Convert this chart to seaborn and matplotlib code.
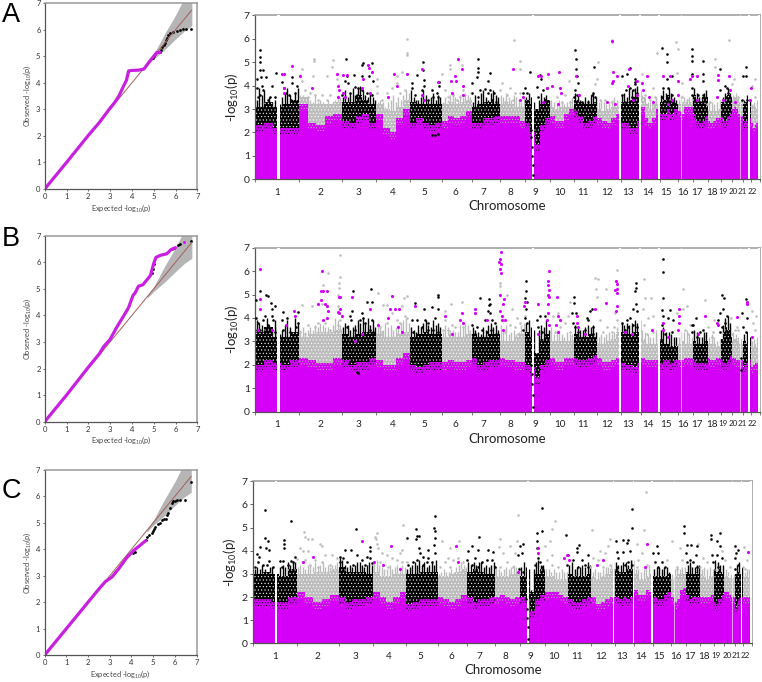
import numpy as np
import matplotlib
matplotlib.use('Agg')
import matplotlib.pyplot as plt
import seaborn as sns

sns.set_theme(style='white')
plt.rcParams['font.family'] = ['Lato', 'DejaVu Sans']
plt.rcParams['mathtext.default'] = 'regular'
plt.rcParams['hatch.linewidth'] = 0.4

MAGENTA = '#D400F8'
GREY = '#BDBDBD'
W, H = 762, 682

# chromosome lengths in Mb
chrom_mb = [249, 243, 198, 191, 181, 171, 159, 146, 141, 135, 135, 133, 115, 107, 102, 90, 81, 78, 59, 63, 48, 51]
chrom_names = [str(i) for i in range(1, 23)]
spike_counts = [17, 17, 14, 13, 13, 12, 11, 10, 10, 9, 9, 9, 8, 7, 7, 6, 6, 5, 4, 4, 3, 4]

# label positions along the genome axis (same unit as the *_x lists)
ab_labels = [186, 316, 430, 532, 628, 721, 806, 885, 960, 1034, 1104, 1175, 1240, 1299, 1353, 1403, 1447, 1490, 1524, 1556, 1583, 1613]
c_labels = [180, 307, 421, 521, 616, 708, 793, 870, 945, 1018, 1087, 1158, 1221, 1279, 1333, 1383, 1425, 1468, 1503, 1537, 1565, 1591]

# regions without markers
ab_gaps = [(186, 194), (950, 958), (1212, 1217), (1272, 1278), (1328, 1334), (1600, 1604), (1628, 1635)]
ab_faint = [(1399, 1402), (1575, 1578)]
c_gaps = [(180, 187), (935, 942), (1193, 1197), (1253, 1258), (1308, 1314), (1577, 1581), (1605, 1612)]
c_faint = [(1377, 1380), (1551, 1553)]

# per chromosome, five bins: upper edge of the point cloud and of the solid magenta area
a_top = [3.1,3.3,3.1,3.2,3.4, 3.5,3.2,3.2,3.2,3.3, 3.3,3.3,3.6,3.4,3.2, 3.2,3.0,2.9,3.1,3.4, 3.3,3.2,3.2,3.2,3.2, 3.2,3.3,3.2,3.3,3.4,
         3.1,3.2,3.3,3.3,3.2, 3.2,3.3,3.2,3.1,3.1, 3.4,3.2,3.0,3.2,3.4, 3.1,3.0,3.1,3.1,3.1, 3.4,3.3,3.2,3.2,3.3, 3.0,2.9,3.0,3.1,3.1,
         3.3,3.3,3.4,3.5,3.6, 3.5,3.2,3.0,3.2,3.2, 3.3,3.4,3.6,3.4,3.2, 3.2,3.3,3.3,3.2,3.3, 3.6,3.4,3.3,3.5,3.5, 3.0,2.9,2.9,2.9,3.0,
         3.3,3.2,3.5,3.6,3.5, 3.4,3.5,3.4,3.3,3.3, 3.2,3.3,3.3,3.3,3.2, 3.0,2.9,3.1,3.0,2.9]
a_low = [2.3,2.4,2.2,2.2,2.2, 3.2,2.4,2.3,2.7,2.8, 2.5,2.4,2.7,2.8,2.4, 2.8,2.2,2.0,2.6,3.0, 2.4,2.6,2.4,2.3,2.4, 2.5,2.7,2.6,2.7,2.9,
         2.4,2.4,2.6,2.6,2.7, 2.7,2.7,2.7,2.7,2.5, 2.4,2.0,1.5,2.3,2.6, 2.7,2.5,2.5,2.8,3.0, 2.9,2.7,2.4,2.5,2.7, 2.6,2.5,2.4,2.6,2.8,
         2.4,2.4,2.2,2.2,2.5, 3.1,2.6,2.4,2.6,3.0, 2.8,2.8,3.0,2.8,3.0, 2.9,2.8,3.1,3.1,3.1, 2.8,2.5,2.4,2.5,2.7, 2.5,2.4,2.5,2.6,2.6,
         2.7,2.5,2.5,2.7,2.8, 3.0,3.1,3.0,2.8,2.7, 2.3,2.5,2.5,2.6,2.6, 2.4,2.2,2.3,2.4,2.4]
b_top = [3.4,3.6,3.2,3.2,3.4, 3.2,3.3,3.4,3.4,3.5, 3.3,3.2,3.3,3.4,3.4, 3.3,3.2,3.2,3.3,3.4, 3.2,3.3,3.4,3.3,3.3, 3.2,3.3,3.2,3.2,3.3,
         3.3,3.2,3.2,3.3,3.3, 3.0,3.0,3.0,3.2,3.3, 3.4,3.2,2.5,3.1,3.3, 3.0,3.0,3.0,3.0,3.0, 3.3,3.2,3.2,3.3,3.2, 2.9,2.9,3.0,3.1,3.4,
         3.4,3.3,3.3,3.4,3.4, 3.1,2.9,2.9,2.9,2.9, 3.1,2.9,2.9,2.8,2.8, 2.9,3.0,2.9,2.9,2.9, 3.0,2.9,2.9,2.9,3.0, 2.9,2.9,2.9,2.8,2.8,
         3.1,3.4,3.6,3.5,3.2, 3.0,3.1,3.0,2.9,2.9, 3.0,3.0,2.9,2.9,2.9, 2.7,2.8,2.9,2.8,2.8]
b_low = [2.0,2.2,2.1,2.0,2.2, 2.3,2.2,2.1,2.1,2.3, 2.2,2.0,2.1,2.1,2.3, 2.2,2.0,2.0,2.3,2.5, 2.0,1.9,2.0,2.1,2.1, 2.1,2.2,2.1,2.1,2.2,
         2.3,2.0,2.1,2.2,2.2, 2.3,2.2,2.2,2.1,2.1, 2.0,1.9,1.5,2.0,2.2, 2.3,2.1,2.1,2.3,2.3, 2.3,2.2,2.2,2.3,2.4, 2.3,2.1,2.1,2.2,2.3,
         2.1,2.0,2.0,1.9,2.1, 2.3,2.2,2.2,2.2,2.2, 2.1,2.2,2.2,2.1,2.2, 2.2,2.2,2.3,2.3,2.3, 2.2,2.1,2.1,2.1,2.1, 2.3,2.2,2.2,2.3,2.3,
         2.2,2.1,2.1,2.2,2.4, 2.3,2.3,2.2,2.2,2.2, 1.8,2.0,2.1,2.2,2.2, 1.9,2.0,2.1,2.1,2.1]
c_top = [3.0,3.1,3.0,2.9,3.2, 3.0,3.0,3.1,3.1,3.2, 3.3,3.1,3.1,3.1,3.0, 3.1,2.9,2.9,3.0,3.0, 3.0,3.0,3.1,3.1,3.1, 2.9,2.9,3.0,3.1,3.2,
         3.1,3.2,3.1,3.0,3.0, 2.9,2.9,2.9,3.0,3.0, 2.9,2.9,2.2,3.0,3.2, 2.9,2.9,2.8,2.8,2.8, 3.0,2.9,2.9,2.9,3.0, 2.9,2.8,2.9,3.0,3.2,
         3.2,3.1,3.1,3.2,3.2, 3.0,2.8,2.8,2.9,3.0, 2.9,2.9,2.9,2.9,3.0, 2.8,2.9,3.0,3.0,3.0, 3.1,3.0,3.0,3.1,3.0, 3.0,2.9,2.8,2.9,2.9,
         3.2,3.1,3.2,3.1,3.0, 2.9,2.9,2.8,2.8,2.8, 3.0,3.2,3.1,3.0,3.0, 2.9,2.9,2.9,2.9,2.9]
c_low = [1.9,1.9,1.8,1.8,2.0, 2.2,2.0,1.8,1.9,2.1, 2.0,1.8,1.9,1.9,2.0, 2.2,2.0,1.8,2.0,2.2, 1.7,1.8,1.9,1.9,1.9, 2.0,1.9,1.8,1.9,2.1,
         2.0,1.8,1.9,1.9,2.0, 2.0,2.1,2.0,1.9,2.0, 2.0,1.9,1.4,1.9,2.1, 2.2,2.2,2.2,2.1,2.0, 1.9,1.8,1.8,1.9,2.0, 2.0,1.7,1.8,1.9,2.0,
         2.0,1.9,2.0,1.9,2.0, 2.3,2.1,2.1,2.3,2.2, 2.0,1.9,1.9,2.1,2.2, 2.0,1.8,1.9,2.3,2.4, 2.1,1.9,2.0,2.0,2.0, 2.0,2.0,2.0,2.0,2.1,
         1.8,1.7,1.9,1.9,2.1, 2.2,2.2,2.1,2.0,2.0, 1.5,1.8,1.9,2.0,2.0, 2.0,2.0,2.0,2.0,2.0]

# ragged outline of the cloud, chromosome by chromosome
a_spikes = [3.4,3.9,3.6,3.8,3.3,3.5,3.3,3.4,3.1,3.2,3.5,3.7,3.9,3.6,3.4,3.7,3.9,
            3.6,3.6,3.4,3.5,3.4,3.3,3.6,3.3,3.4,3.3,3.2,3.4,3.2,3.3,3.4,3.6,3.5,
            3.5,3.8,3.5,3.7,3.9,3.6,3.9,4.0,3.8,3.6,3.5,3.7,3.5,3.4,
            3.3,3.4,3.3,3.1,3.3,3.4,3.6,3.3,3.5,3.4,3.6,3.8,3.7,
            3.8,3.5,3.4,3.4,3.5,3.8,3.6,3.4,3.5,3.7,3.4,3.6,3.5,
            3.3,3.5,3.4,3.6,3.7,3.5,3.4,3.6,3.5,3.7,3.6,3.5,
            3.3,3.6,3.4,3.7,3.8,3.5,3.4,3.7,3.8,3.6,3.5,
            3.6,3.5,3.7,3.5,3.4,3.6,3.5,3.4,3.3,3.5,
            3.5,3.7,3.5,3.3,1.9,3.4,3.7,3.5,3.6,3.4,
            3.4,3.3,3.2,3.4,3.3,3.2,3.3,3.4,3.5,
            3.7,3.6,3.4,3.3,3.5,3.4,3.6,3.7,3.5,
            3.3,3.4,3.3,3.2,3.3,3.4,3.5,3.4,3.4,
            3.6,3.7,3.5,3.9,3.8,3.9,4.0,3.8,
            3.6,3.5,3.3,3.3,3.4,3.5,3.6,
            3.6,3.8,3.7,3.9,3.7,3.5,3.4,
            3.4,3.6,3.5,3.4,3.5,3.6,
            3.9,3.7,3.5,3.5,3.7,3.8,
            3.3,3.3,3.2,3.3,3.4,
            3.5,3.7,3.9,3.7,
            3.6,3.7,3.5,3.4,
            3.4,3.6,3.4,
            3.2,3.3,3.4,3.2]
b_spikes = [3.9,3.8,3.7,3.5,4.0,3.7,3.5,3.9,3.6,3.3,3.5,3.7,3.9,3.6,3.4,4.0,3.8,
            3.5,3.6,3.4,3.5,3.6,3.5,3.7,3.6,3.8,3.7,3.6,3.6,3.5,3.7,4.0,3.9,3.7,
            3.6,3.8,3.7,3.5,3.6,3.7,3.9,3.8,4.0,3.8,4.0,3.7,3.9,3.6,
            3.8,3.6,3.5,3.8,3.6,3.7,3.5,3.6,3.7,3.8,3.9,4.0,3.8,
            3.6,3.5,3.4,3.7,3.6,3.8,3.9,3.7,3.6,3.9,3.7,3.8,3.6,
            3.4,3.7,3.6,3.5,3.5,3.4,3.4,3.7,3.6,3.8,3.7,3.5,
            3.6,3.5,3.4,3.3,3.6,3.5,3.7,3.8,3.6,3.7,3.5,
            3.7,3.5,3.7,3.3,3.4,3.5,3.3,3.4,3.7,3.8,
            3.8,3.9,3.6,3.5,2.0,3.5,3.7,3.6,3.9,3.5,
            3.6,3.3,3.4,3.5,3.3,3.2,3.4,3.3,3.3,
            3.7,3.6,3.5,3.5,3.6,3.7,3.6,3.7,3.4,
            3.2,3.3,3.2,3.3,3.4,3.3,3.4,3.6,3.9,
            3.8,3.7,3.8,3.7,3.8,3.9,3.8,3.9,
            3.5,3.4,3.3,3.2,3.2,3.5,3.3,
            3.5,3.6,3.4,3.4,3.3,3.2,3.2,
            3.2,3.4,3.4,3.5,3.3,3.2,
            3.5,3.4,3.2,3.2,3.4,3.4,
            3.2,3.3,3.2,3.0,3.1,
            3.7,4.0,4.1,3.8,
            3.4,3.3,3.2,3.1,
            3.3,3.4,3.2,
            3.0,3.1,3.2,3.1]
c_spikes = [3.2,3.3,3.2,3.4,3.2,3.1,3.3,3.3,2.9,2.9,3.3,3.4,3.3,3.5,3.4,3.5,3.5,
            3.3,3.4,3.3,3.2,3.4,3.4,3.3,3.5,3.3,3.4,3.5,3.3,3.4,3.3,3.4,3.4,3.5,
            3.7,3.6,3.4,3.3,3.4,3.3,3.4,3.5,3.5,3.4,3.3,3.4,3.5,3.4,
            3.5,3.6,3.4,3.3,3.2,3.2,3.4,3.2,3.3,3.4,3.3,3.4,3.3,
            3.2,3.3,3.4,3.5,3.4,3.6,3.4,3.5,3.3,3.4,3.5,3.4,3.6,
            3.0,3.1,3.2,3.1,3.1,3.2,3.1,3.3,3.4,3.5,3.4,3.3,
            3.5,3.4,3.5,3.4,3.5,3.5,3.3,3.4,3.3,3.4,3.5,
            3.3,3.2,3.1,3.2,3.3,3.2,3.3,3.4,3.3,3.3,
            3.3,3.5,3.3,3.2,2.3,3.2,3.5,3.6,3.4,3.4,
            3.2,3.2,3.1,3.2,3.1,3.1,3.2,3.1,3.1,
            3.4,3.5,3.2,3.3,3.3,3.4,3.3,3.5,3.4,
            3.1,3.2,3.1,3.1,3.2,3.3,3.3,3.4,3.5,
            3.5,3.4,3.4,3.5,3.5,3.4,3.6,3.6,
            3.2,3.2,3.1,3.2,3.3,3.4,3.3,
            3.2,3.3,3.3,3.2,3.3,3.3,3.1,
            3.0,3.2,3.3,3.2,3.3,3.3,
            3.4,3.5,3.3,3.3,3.4,3.4,
            3.2,3.3,3.2,3.3,3.2,
            3.6,3.5,3.4,3.4,
            3.2,3.1,3.0,3.0,
            3.4,3.5,3.3,
            3.1,3.2,3.2,3.1]

# Panel A single markers
a_black_x = [135,135,135,135,145,182,125,138,152,172,127,140,145,135,158,180,165,130, 200,206,230,232,245,222,212,240,228,
             392,395,418,440,445,470,442,462,390,398,420,430,380,405,440,455,475,470,425,
             592,605,625,625,627,628,590,600,620,650,665,672,672,655,670,640,650,660,670,
             788,790,790,785,772,820,810,770,795,820,790,825,825,837,830,843,
             945,930,937,925,975,977,965,995,985,970,990,953,953,950,950,948,947,
             1080,1082,1083,1085,1090,1080,1077,1085,1100,1137,1135,1130,1120,1140,
             1220,1235,1245,1260,1260,1260,1233,1220,1245,1255,1265,1230,1250,
             1342,1355,1355,1370,1355,1345,1360,1340,1370,1355,1380,1370,
             1432,1431,1431,1463,1432,1465,1465,1430,1430,1450,1465,1440,1455,
             1515,1515,1530,1537,1532,1540,1593,1593,1585,1580,1595]
a_black_y = [5.5,5.2,5.0,4.65,4.65,4.55,4.3,4.35,4.35,4.0,3.9,4.0,3.8,3.6,3.4,3.5,3.5,3.5, 4.15,3.9,4.35,4.1,4.0,3.6,3.7,3.7,3.4,
             5.15,4.4,4.45,4.4,4.95,4.95,4.9,4.4,4.2,4.1,3.95,3.9,3.6,3.7,3.8,3.7,4.2,3.6,3.6,
             4.1,4.45,5.0,4.65,4.25,4.0,3.9,3.6,3.8,3.8,3.7,4.15,4.0,3.5,3.5,3.4,1.9,1.9,1.95,
             5.15,4.75,4.6,4.35,4.1,4.2,3.85,3.7,3.8,3.7,3.5,4.55,3.8,3.7,3.4,3.3,
             4.6,3.9,3.7,3.7,4.45,4.3,3.95,3.9,3.8,3.5,3.4,0.2,0.6,1.0,1.4,1.8,2.1,
             5.5,5.15,4.7,4.4,4.1,3.8,3.5,3.6,3.3,4.8,3.7,3.6,3.3,3.5,
             4.4,4.5,4.75,4.3,4.15,4.05,3.8,3.6,3.9,3.8,3.7,3.3,3.5,
             5.6,5.35,5.0,4.4,4.3,3.9,3.9,3.5,3.6,3.5,3.2,3.2,
             5.55,5.25,5.05,5.05,4.5,4.5,4.2,3.9,3.6,3.6,3.6,3.4,3.3,
             4.7,3.8,4.0,3.9,3.5,3.7,4.8,4.4,4.4,3.4,3.4]
a_grey_x = [260,296,296,294,260,270,285,300,320,335,355,352,365,280,310,335,345,
            487,487,487,577,577,577,560,545,545,530,515,500,555,570,
            680,705,705,740,690,715,735,700,725,745,
            897,915,915,860,855,885,900,875,915,895,870,
            1063,1050,1025,1040,1065, 1190,1190,1150,1145,1140,1170,1155,1190,
            1282,1300,1313,1320,1290,1305,1325,
            1383,1390,1385,1400,1415,1400, 1500,1500,1485,1505,1475,
            1543,1557,1550,1570,1565, 1620,1610,1620,1615]
a_grey_y = [4.7,5.15,5.05,4.4,4.2,3.8,3.7,3.6,3.6,4.4,5.1,4.8,4.3,3.5,3.4,3.4,3.6,
            4.3,4.0,3.7,6.0,5.4,5.3,4.6,4.4,4.1,3.9,3.7,3.4,3.7,3.8,
            4.5,4.9,4.7,4.9,3.8,3.6,3.5,3.5,3.4,3.8,
            5.95,5.05,4.7,4.1,3.8,3.9,3.7,3.6,3.7,3.4,3.3,
            4.2,3.6,3.5,3.3,3.3, 5.95,5.85,5.0,4.3,4.05,3.4,3.4,3.3,
            4.5,4.4,3.9,3.5,3.6,3.4,5.4,
            5.85,5.55,4.55,4.1,3.4,3.5, 5.15,4.8,3.3,3.5,3.2,
            5.95,4.3,4.05,3.5,3.4, 4.3,4.0,3.5,3.1]
a_mag_x = [200,208,230,207,208, 256,292,366,368,372,370, 385,395,460,462,470,445,440,465,385,390,
           538,575,545,520, 622,620,668,628, 728,720,740,722,708,745,745,712,
           893,915,925, 970,977,1000,997,1010,985, 1033,1035,1037,1030, 1083,1093,
           1190,1195,1205,1193,1190,1175,1200, 1243,1240,1267,1253,1265,
           1297,1282,1285,1303,1315, 1345,1365,1370,1360, 1390,1390, 1430,1447,1425,1445,
           1510,1510,1505, 1541,1545,1525, 1560, 1607,1605]
a_mag_y = [4.5,4.5,4.85,3.9,3.7, 4.4,3.9,4.5,4.0,3.8,3.5, 4.45,4.45,4.9,4.75,4.6,4.3,3.9,3.7,3.7,3.5,
           4.5,4.5,4.0,3.5, 4.7,3.6,4.15,3.4, 5.15,4.4,4.7,4.2,4.2,4.0,3.6,3.7,
           4.7,3.4,3.5, 4.4,4.4,4.5,3.9,4.0,3.3, 4.6,3.9,3.7,3.2, 4.4,3.6,
           5.9,4.6,4.4,4.2,4.1,3.3,3.2, 4.7,4.0,3.6,3.4,4.2,
           4.4,4.1,3.8,3.5,3.3, 4.4,4.4,3.4,3.2, 4.2,3.6, 4.4,4.4,4.3,3.4,
           4.45,4.25,3.5, 4.4,3.8,3.4, 3.3, 3.9,3.4]

# Panel B single markers
b_black_x = [135,122,153,158,168,180,172,122,130,150,170,175,145,160,135,180,125,155, 205,200,215,250,250,205,225,243,
             415,412,405,395,408,455,470,468,440,445,435,450,470,465,475,420,430,425,
             600,628,650,668,670,668,590,605,630,640,660,620,655,595,640,670,
             795,822,822,820,770,785,800,810,815,780,825,825,830,840,828,843,
             933,932,930,935,932,930,935,940,925,965,975,990,970,980,953,953,950,950,948,
             1077,1077,1072,1082,1075,1080,1125,1120,1117,1130,1135,1090,1110,1135,
             1263,1263,1260,1263,1255,1265,1245,1235,1220,1255,1240,1230,1265,
             1343,1343,1345,1340,1345,1365,1360,1375,1340,1370,1350,
             1442,1430,1435,1465,1430,1455,1445,
             1520,1528,1525,1515,1535,1510,1530,1520,1515,1535, 1593,1580,1595,1585,1593,1577,1577]
b_black_y = [5.15,4.75,5.0,4.95,4.65,4.5,4.4,4.0,3.8,4.1,4.1,3.9,3.9,3.7,3.5,3.4,3.5,3.4, 4.25,3.9,4.0,4.25,3.8,3.5,3.4,3.6,
             5.15,4.3,4.1,3.6,3.9,4.7,4.7,5.22,4.2,4.0,3.9,3.8,3.9,3.5,3.4,3.5,1.65,1.7,
             4.65,4.4,4.45,5.0,4.9,4.4,3.9,3.9,3.9,3.8,4.0,3.6,3.5,3.4,3.5,3.4,
             4.85,4.8,4.55,4.3,3.7,3.6,3.5,3.9,3.4,3.3,4.6,4.2,3.9,3.8,3.5,3.3,
             5.6,5.15,4.85,4.7,4.4,4.0,3.8,3.3,3.5,3.9,4.1,4.1,3.6,3.4,0.2,0.7,1.2,1.6,2.0,
             4.9,4.65,4.2,4.2,3.8,3.6,4.3,3.9,4.0,4.4,3.6,3.4,3.5,3.3,
             5.5,5.3,5.15,4.6,4.4,4.3,4.0,3.9,3.8,3.7,3.6,3.5,3.6,
             6.5,5.95,4.85,4.35,4.1,4.35,4.0,3.9,3.7,3.4,3.3,
             4.0,3.7,3.7,3.5,3.4,3.4,3.2,
             5.0,4.85,4.4,4.2,4.1,3.9,3.8,3.6,3.4,3.4, 4.8,4.2,4.0,3.6,3.4,2.3,1.8]
b_grey_x = [260,290,325,338,320,310,280,300,330,345,255,270,376,376,372,372,370,370,375,368,375,
            488,503,515,575,568,560,570,530,545,515,495,555,575,500,
            690,708,690,710,740,720,745,700,685,
            855,855,877,890,905,930,885,900,915,870,910,
            1065,1015,1030,1060,1050,1035,1065,1020,
            1141,1150,1142,1173,1147,1207,1203,1200,1205,1155,1175,1165,1197,1190,
            1287,1290,1307,1285,1315,1300,1287,1315,1295,
            1403,1415,1405,1387,1425,1410,1420, 1470,1497,1480,1495,1490, 1560,1550,1570,1548,1565,
            1610,1623,1615,1620]
b_grey_y = [4.55,4.5,5.4,5.9,4.6,3.8,3.7,3.6,3.8,3.5,3.4,3.3,6.7,5.75,5.5,5.3,5.0,4.5,3.9,3.7,3.5,
            5.05,4.55,4.55,4.95,4.85,4.5,4.1,4.2,3.9,3.8,3.6,3.8,4.0,3.4,
            4.3,4.6,3.9,3.7,4.7,3.6,3.6,3.5,3.5,
            5.5,5.35,5.0,4.4,4.0,4.1,3.7,3.6,3.8,3.4,3.3,
            4.7,4.1,4.2,4.1,3.8,3.6,3.4,3.4,
            5.7,5.65,5.25,5.25,4.9,6.05,5.6,4.2,3.9,3.9,3.6,3.4,3.6,3.4,
            5.65,4.85,4.85,4.4,4.1,4.0,3.7,3.4,3.3,
            5.25,4.5,4.4,4.2,3.7,3.5,3.3, 4.75,3.9,3.6,3.4,3.2, 3.5,3.3,3.5,4.0,3.6,
            4.3,4.1,3.8,3.5]
b_mag_x = [135,135,136,238,240,130,170,212, 322,318,325,335,318,330,335,338,335,325,310,375,372,375,372,380,368,
           410,465,440,420, 532,525,540,553,600,520,490,550,560, 690,740,745,735,710, 780,780,815,
           857,855,853,858,855,858,856,867,865,855,860,870,863,860,
           930,928,1002,1000,1000,1002,998,1003,1000,968,1000,995,1003,1030,1035,1023,1030,970,
           1025, 1087,1087,1140,1090,1110, 1203,1205,1207,1200,1205,1173,1205,1203,
           1230,1250, 1310, 1343,1345,1360, 1393,1393,1393,1390, 1470,1450, 1505,1565,1508, 1595,1597,1610]
b_mag_y = [6.1,4.8,4.4,4.3,4.1,3.5,3.5,3.7, 6.0,5.15,5.15,5.15,4.75,4.6,4.5,4.3,4.0,3.9,4.6,4.9,4.9,4.4,4.2,4.1,4.25,
           4.9,4.4,3.3,3.0, 4.95,4.4,4.4,4.4,4.5,4.0,3.7,3.6,3.4, 4.1,4.2,3.8,3.9,3.3, 4.4,4.2,3.9,
           6.8,6.5,6.4,6.3,6.1,5.9,5.0,4.8,4.6,4.3,3.9,3.9,3.5,4.1,
           4.7,4.5,6.0,5.6,5.4,5.2,5.0,4.9,4.6,4.6,4.2,3.9,3.7,4.1,3.9,3.7,3.4,3.3,
           4.9, 4.1,3.8,4.4,3.6,3.3, 5.6,5.45,5.25,5.2,5.05,4.65,4.5,4.3,
           3.4,3.3, 3.5, 3.8,3.5,3.2, 4.4,4.1,3.8,3.5, 4.1,3.3, 3.8,4.05,3.7, 4.7,4.6,3.2]

# Panel C single markers
c_black_x = [150,150,158,135,125,133,152,163,162,130,145,120,155,175, 207,207,207,228,240,195,205,228,235,220,200,
             390,408,424,375,385,425,440,465,465,455,465,395,415,450,375,470,
             575,602,602,607,612,660,658,660,660,658,660,640,612,615,625,595,640,605,625,650,580,635,
             793,770,760,790,820,755,780,800,815,770,790,833,830,840,
             925,915,920,910,980,980,965,967,965,970,975,960,980,913,925,938,938,935,935,933,
             1053,1093,1085,1087,1060,1075,1100,1120,1055,1090,1110,1120,
             1203,1225,1235,1240,1250,1250,1205,1225,1245,1210,1240,1230,1250,1205,
             1325,1315,1330,1340,1320,1350,1330,
             1408,1407,1415,1428,1445,1413,1443,1425,1415,1435,1445,
             1487,1487,1515,1505,1515,1490,1505,1520,1495,1510,
             1560,1570,1563,1560,1570,1560]
c_black_y = [5.75,4.55,4.4,4.15,3.85,3.75,4.1,4.05,3.55,3.5,3.4,3.3,3.4,3.3, 4.45,4.3,4.1,5.28,3.75,3.55,3.55,3.55,3.5,3.4,3.3,
             4.05,4.05,4.95,3.75,3.7,3.8,3.6,4.15,4.0,3.75,3.7,3.5,3.4,3.4,3.5,3.45,
             4.55,4.95,4.5,4.65,4.65,5.5,5.0,4.85,4.55,4.25,3.9,4.05,4.1,3.9,3.75,3.5,3.7,3.6,3.4,3.5,3.4,3.5,
             4.6,4.2,4.0,4.05,4.05,3.6,3.7,3.5,3.6,3.4,3.3,3.95,3.6,3.3,
             4.3,4.2,3.9,3.8,5.85,4.85,4.75,4.4,4.1,3.7,3.5,3.4,3.3,3.2,3.1,0.2,0.7,1.1,1.5,1.9,
             4.7,4.25,4.1,3.95,3.8,3.6,3.6,3.8,3.4,3.3,3.4,3.3,
             4.4,4.45,4.35,4.45,5.82,5.0,3.95,3.95,4.0,3.7,3.5,3.4,3.4,3.3,
             4.2,3.9,3.9,3.5,3.5,3.3,3.3,
             5.05,4.75,4.25,4.25,4.2,3.9,3.8,3.6,3.5,3.5,3.3,
             4.7,4.5,4.75,4.4,4.2,3.8,3.8,3.7,3.5,3.3,
             4.2,4.05,3.9,3.7,3.4,3.2]
c_grey_x = [268,270,280,290,255,265,280,315,320,245,270,300,330,350,365,285,320,345,310,
            480,485,483,485,490,500,515,563,560,555,545,530,575,495,520,560,
            705,732,700,730,680,690,715,745,705,675,
            908,855,853,885,905,865,900,875,855,895,
            1020,1010,1005,990,1010,995,1030,1010,
            1130,1185,1180,1155,1135,1170,1125,1150,1185,1165,
            1293,1288,1265,1280,1270,1295,1265,
            1371,1355,1385, 1395,1400,1385, 1450,1465,1475,1455, 1530,1545,1520,
            1587,1595,1585,1590]
c_grey_y = [4.8,4.6,4.5,4.5,4.1,4.0,4.0,4.3,4.2,3.65,3.6,3.6,3.8,3.8,3.7,3.4,3.5,3.4,3.3,
            4.6,4.75,4.5,4.3,4.1,3.9,3.8,5.1,4.05,3.9,3.6,3.7,3.5,3.5,3.3,3.5,
            4.1,4.4,3.7,3.7,4.4,3.5,3.6,3.5,3.3,3.3,
            5.55,4.5,4.15,4.2,4.4,3.9,3.9,3.5,3.3,3.3,
            5.3,4.95,4.4,4.2,3.8,3.6,3.3,3.4,
            4.9,4.5,4.2,4.0,3.7,3.9,3.3,3.6,3.4,3.3,
            6.55,4.9,4.3,3.9,3.6,3.4,3.3,
            4.4,3.6,3.3, 4.1,3.6,3.2, 4.3,3.7,3.5,3.3, 3.6,3.3,4.0,
            4.15,3.6,3.3,3.2]
c_mag_x = [295,265, 441, 478,528,503,555, 722,728, 910, 968,970, 1047, 1057,1063, 1165,1147, 1295,1290, 1600]
c_mag_y = [3.75,3.5, 4.4, 3.5,4.2,3.4,3.2, 4.2,3.5, 3.1, 4.1,3.9, 3.7, 3.8,3.6, 3.6,3.4, 4.3,3.3, 3.95]

# QQ plots: observed against expected, upper part as single dots, confidence band
a_qq_x = [0, 1, 2, 2.5, 2.7, 3.0, 3.2, 3.4, 3.6, 3.75, 3.85, 4.0, 4.3, 4.55, 4.8, 5.0, 5.15, 5.3]
a_qq_y = [0, 1, 2.02, 2.5, 2.72, 3.05, 3.25, 3.5, 3.85, 4.1, 4.45, 4.47, 4.48, 4.52, 4.8, 5.0, 5.15, 5.15]
a_dot_x = [4.95, 5.0, 5.05, 5.15, 5.3, 5.35, 5.4, 5.45, 5.5, 5.55, 5.6, 5.65, 5.75, 5.9, 6.05, 6.2, 6.35, 6.5, 6.7]
a_dot_y = [4.95, 5.0, 5.1, 5.15, 5.18, 5.25, 5.35, 5.42, 5.5, 5.6, 5.7, 5.82, 5.87, 5.92, 5.95, 6.0, 6.03, 6.03, 6.03]
b_qq_x = [0, 1, 2, 2.5, 2.7, 3.0, 3.3, 3.6, 3.85, 4.05, 4.15, 4.3, 4.5, 4.7, 4.85, 5.0, 5.1, 5.3, 5.6, 5.8, 6.0]
b_qq_y = [0, 1, 2.05, 2.55, 2.82, 3.1, 3.55, 3.95, 4.3, 4.75, 4.85, 5.1, 5.15, 5.35, 5.5, 5.95, 6.18, 6.26, 6.32, 6.48, 6.55]
b_dot_x = [4.9, 4.95, 5.0, 5.85, 5.95, 6.1, 6.2, 6.7]
b_dot_y = [5.6, 5.75, 5.95, 6.5, 6.52, 6.65, 6.7, 6.8]
b_mag_dot_x = [6.4]
b_mag_dot_y = [6.77]
c_qq_x = [0, 1, 2, 2.5, 2.8, 3.1, 3.4, 3.8, 4.1, 4.4, 4.65]
c_qq_y = [0, 1, 2, 2.5, 2.78, 2.95, 3.25, 3.7, 3.95, 4.15, 4.32]
c_dot_x = [4.05, 4.15, 4.65, 4.7, 4.8, 4.95, 5.0, 5.05, 5.1, 5.2, 5.3, 5.4, 5.5, 5.6, 5.65, 5.7, 5.75, 5.85, 5.9, 6.0, 6.1, 6.25, 6.45, 6.72]
c_dot_y = [3.85, 3.9, 4.35, 4.45, 4.52, 4.6, 4.68, 4.78, 4.85, 4.95, 5.0, 5.12, 5.13, 5.14, 5.3, 5.38, 5.55, 5.75, 5.82, 5.83, 5.84, 5.85, 5.85, 6.55]
ci_x = [4.7, 5.0, 5.5, 6.0, 6.4, 6.75]
ci_hi = [4.75, 5.08, 5.85, 6.55, 7.2, 7.8]
ci_lo = [4.65, 4.9, 5.25, 5.65, 5.95, 6.15]


def px_axes(fig, left, top, right, bottom):
    return fig.add_axes([left / W, 1 - bottom / H, (right - left) / W, (bottom - top) / H])


def frame(ax):
    for s in ['top', 'right']:
        ax.spines[s].set_color('#999999')
        ax.spines[s].set_linewidth(1.1)
    for s in ['left', 'bottom']:
        ax.spines[s].set_color('#555555')
        ax.spines[s].set_linewidth(0.9)


def qq(ax, x, y, dx, dy, extra=None):
    ax.fill_between(ci_x, ci_lo, ci_hi, color='#B5B5B5', lw=0)
    sns.lineplot(x=[0, 6.75], y=[0, 6.75], color='#A0605A', lw=0.7, ax=ax)
    sns.lineplot(x=x, y=y, sort=False, estimator=None, color='#C81FE0', lw=2.3, ax=ax)
    sns.scatterplot(x=dx, y=dy, color='black', s=4, linewidth=0, ax=ax)
    if extra:
        sns.scatterplot(x=extra[0], y=extra[1], color=MAGENTA, s=4, linewidth=0, ax=ax)
    ax.set_xlim(0, 7)
    ax.set_ylim(0, 7)
    ax.set_xticks(range(8))
    ax.set_yticks(range(8))
    ax.tick_params(labelsize=5.5, length=1.5, width=0.5, pad=1.5, colors='#333333', bottom=True, left=True)
    ax.set_xlabel('Expected -log$_{10}$(p)', fontsize=5.3, color='#444444', labelpad=1.5)
    ax.set_ylabel('Observed -log$_{10}$(p)', fontsize=5.3, color='#444444', labelpad=2)
    frame(ax)


def manhattan(ax, x0, span, labels, gaps, faint, top, low, spikes, dark, grey, mag):
    scale = span / sum(chrom_mb)
    edges = x0 + np.concatenate([[0], np.cumsum(chrom_mb)]) * scale
    bins = np.concatenate([np.linspace(edges[i], edges[i + 1], 6)[:-1] for i in range(22)] + [[edges[-1]]])
    mids = (bins[:-1] + bins[1:]) / 2
    odd = np.repeat(np.arange(22) % 2 == 0, 5)
    top = np.array(top)
    low = np.array(low)
    bins = list(bins)
    common = dict(x=mids, bins=bins, alpha=1, ax=ax)
    # ragged outline first, then the cloud, then the magenta below it
    start = 0
    for i, n in enumerate(spike_counts):
        pad = (edges[i + 1] - edges[i]) / (2 * n)
        xs = np.linspace(edges[i] + pad, edges[i + 1] - pad, n)
        ax.vlines(xs, 2, spikes[start:start + n], color='black' if i % 2 == 0 else GREY, lw=1.0, zorder=0.5)
        start += n
    sns.histplot(weights=top * odd, color='black', edgecolor='white', hatch='.....', linewidth=0, **common)
    sns.histplot(weights=top * ~odd, color=GREY, edgecolor='white', hatch='.....', linewidth=0, **common)
    sns.histplot(weights=low * odd, color=MAGENTA, edgecolor='black', hatch='......', linewidth=0, **common)
    sns.histplot(weights=low * ~odd, color=MAGENTA, edgecolor=GREY, hatch='......', linewidth=0, **common)
    sns.histplot(weights=low - 0.3, color=MAGENTA, linewidth=0, **common)
    for a, b in gaps:
        ax.axvspan(a, b, color='white', lw=0, zorder=3)
    for a, b in faint:
        ax.axvspan(a, b, color='white', alpha=0.6, lw=0, zorder=3)
    sns.scatterplot(x=grey[0], y=grey[1], color=GREY, s=3.5, linewidth=0, zorder=4, ax=ax)
    sns.scatterplot(x=dark[0], y=dark[1], color='black', s=3.5, linewidth=0, zorder=5, ax=ax)
    sns.scatterplot(x=mag[0], y=mag[1], color=MAGENTA, s=5, linewidth=0, zorder=6, ax=ax)
    ax.set_xlim(x0, x0 + span)
    ax.set_ylim(0, 7)
    ax.set_yticks(range(8))
    ax.set_xticks(labels)
    ax.set_xticklabels(chrom_names)
    ax.set_xticks(edges, minor=True)
    ax.tick_params(axis='x', which='major', length=0, labelsize=7.2, pad=6, colors='#222222')
    ax.tick_params(axis='x', which='minor', length=1.8, width=0.5, bottom=True, color='#444444')
    ax.tick_params(axis='y', length=2, width=0.5, labelsize=7.5, pad=2, left=True, colors='#222222')
    # the last labels sit very close together
    for lab in ax.get_xticklabels()[18:]:
        lab.set_fontsize(5.8)
    ax.set_xlabel('Chromosome', fontsize=9.5, labelpad=2.5, color='#222222')
    ax.set_ylabel('-log$_{10}$(p)', fontsize=9.5, labelpad=2, color='#222222')
    frame(ax)


fig = plt.figure(figsize=(W / 100, H / 100), dpi=100)

ax = px_axes(fig, 44.7, 3.3, 197.3, 189)
qq(ax, a_qq_x, a_qq_y, a_dot_x, a_dot_y)
ax = px_axes(fig, 44.7, 235.7, 197.3, 421.7)
qq(ax, b_qq_x, b_qq_y, b_dot_x, b_dot_y, (b_mag_dot_x, b_mag_dot_y))
ax = px_axes(fig, 44.5, 469.7, 196.7, 655.3)
qq(ax, c_qq_x, c_qq_y, c_dot_x, c_dot_y)

ax = px_axes(fig, 255.3, 15.3, 760, 179.3)
manhattan(ax, 121, 1514, ab_labels, ab_gaps, ab_faint, a_top, a_low, a_spikes, (a_black_x, a_black_y), (a_grey_x, a_grey_y), (a_mag_x, a_mag_y))
ax = px_axes(fig, 255.3, 247.7, 760, 411.7)
manhattan(ax, 121, 1514, ab_labels, ab_gaps, ab_faint, b_top, b_low, b_spikes, (b_black_x, b_black_y), (b_grey_x, b_grey_y), (b_mag_x, b_mag_y))
ax = px_axes(fig, 253.3, 481.3, 752.3, 643.3)
manhattan(ax, 115, 1497, c_labels, c_gaps, c_faint, c_top, c_low, c_spikes, (c_black_x, c_black_y), (c_grey_x, c_grey_y), (c_mag_x, c_mag_y))

for letter, y in [('A', 22), ('B', 246), ('C', 498)]:
    fig.text(2 / W, 1 - y / H, letter, fontsize=19.5, family='Liberation Sans', color='black', ha='left', va='baseline')

fig.savefig('out.png', dpi=100)
